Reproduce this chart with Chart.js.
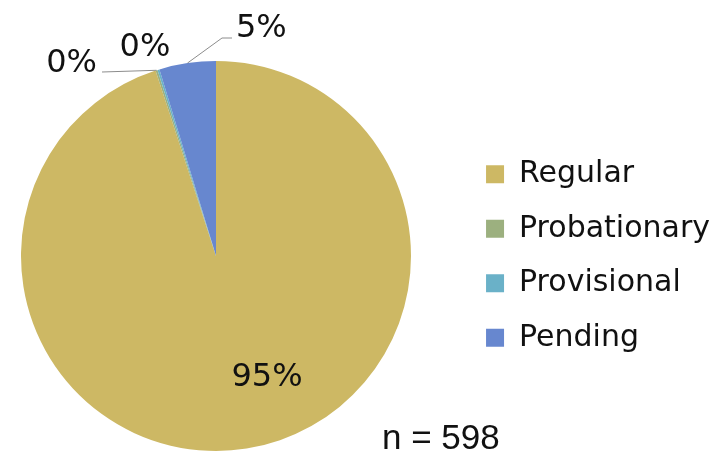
<!DOCTYPE html>
<html>
<head>
<meta charset="utf-8">
<script src="https://cdn.jsdelivr.net/npm/chart.js@4.4.1/dist/chart.umd.min.js"></script>
<style>
  html, body { margin: 0; padding: 0; background: #fff; }
  #wrap { width: 728px; height: 454px; }
</style>
</head>
<body>
<div id="wrap"><canvas id="chart" width="728" height="454"></canvas></div>
<script>
// Data (n = 598)
const categories = ['Regular', 'Probationary', 'Provisional', 'Pending'];
const counts = [568, 1, 1, 28];
const percentLabels = ['95%', '0%', '0%', '5%'];
const sliceColors = ['#CDB864', '#9CB07F', '#6AB1C8', '#6787CF'];
const totalLabel = 'n = 598';

// Label placement, Excel style: inside for the big slice, leader lines for the rest
const labelPlacement = [
  { inside: true, dx: 51, dy: 122 },
  { inside: false, tx: 97, ty: 72, elbow: [102, 72] },
  { inside: false, tx: 145, ty: 56, elbow: null, noLine: true },
  { inside: false, tx: 236, ty: 37, elbow: [222, 38], end: [232, 38] }
];

// keep the pie square on the left, legend stays where the layout put it
const squarePie = {
  id: 'squarePie',
  afterLayout(chart) {
    const area = chart.chartArea;
    area.right = area.left + (area.bottom - area.top);
    area.width = area.right - area.left;
  }
};

const pieLabels = {
  id: 'pieLabels',
  afterDatasetsDraw(chart) {
    const ctx = chart.ctx;
    const meta = chart.getDatasetMeta(0);
    ctx.save();
    ctx.font = '32px "DejaVu Sans"';
    ctx.fillStyle = '#111';
    meta.data.forEach((arc, i) => {
      const p = arc.getProps(['x', 'y', 'startAngle', 'endAngle', 'outerRadius']);
      const place = labelPlacement[i];
      if (place.inside) {
        ctx.textAlign = 'center';
        ctx.textBaseline = 'middle';
        ctx.fillText(percentLabels[i], p.x + place.dx, p.y + place.dy);
        return;
      }
      const mid = (p.startAngle + p.endAngle) / 2;
      const ax = p.x + Math.cos(mid) * p.outerRadius;
      const ay = p.y + Math.sin(mid) * p.outerRadius;
      if (!place.noLine) {
        ctx.strokeStyle = '#8c8c8c';
        ctx.lineWidth = 1;
        ctx.beginPath();
        ctx.moveTo(ax, ay);
        ctx.lineTo(place.elbow[0], place.elbow[1]);
        if (place.end) ctx.lineTo(place.end[0], place.end[1]);
        ctx.stroke();
      }
      ctx.textBaseline = 'alphabetic';
      ctx.textAlign = place.end ? 'left' : (place.noLine ? 'center' : 'right');
      ctx.fillText(percentLabels[i], place.tx, place.ty);
    });
    ctx.font = '35px "Liberation Sans"';
    ctx.textAlign = 'left';
    ctx.fillText(totalLabel, 382, 449);
    ctx.restore();
  }
};

new Chart(document.getElementById('chart'), {
  type: 'pie',
  data: {
    labels: categories,
    datasets: [{
      data: counts,
      backgroundColor: sliceColors,
      borderWidth: 0
    }]
  },
  options: {
    responsive: false,
    animation: false,
    layout: { padding: { left: 21, top: 61, bottom: 3, right: 8 } },
    plugins: {
      tooltip: { enabled: false },
      legend: {
        position: 'right',
        labels: {
          boxWidth: 18,
          boxHeight: 18,
          padding: 24.5,
          color: '#111',
          font: { family: '"DejaVu Sans"', size: 30 }
        }
      }
    }
  },
  plugins: [squarePie, pieLabels]
});
</script>
</body>
</html>
